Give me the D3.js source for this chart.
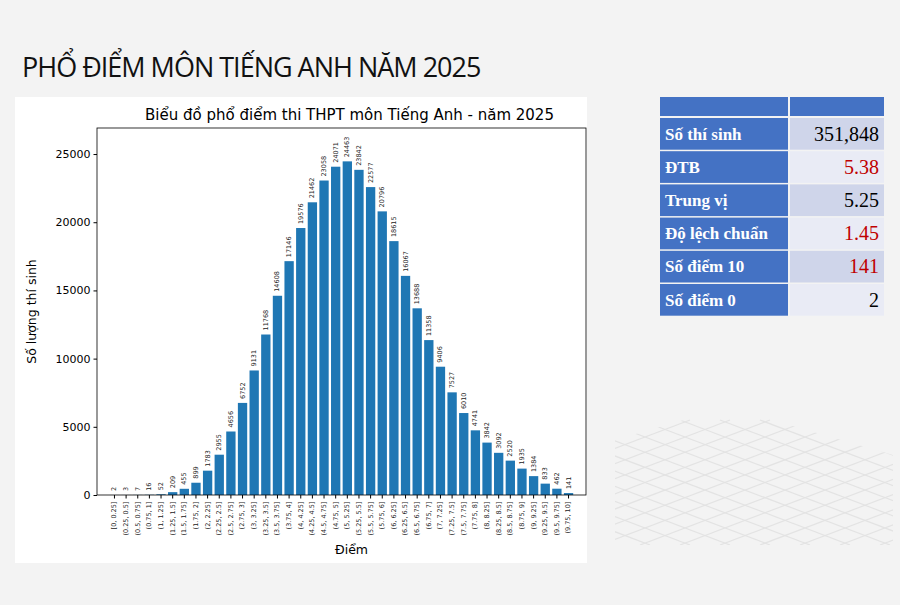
<!DOCTYPE html>
<html><head><meta charset="utf-8">
<script src="https://cdn.jsdelivr.net/npm/d3@7"></script>
<style>body{margin:0;background:#f3f3f3}svg{display:block}</style>
</head><body><div id="chart"></div>
<script>
const bins = ["[0, 0.25]","(0.25, 0.5]","(0.5, 0.75]","(0.75, 1]","(1, 1.25]","(1.25, 1.5]","(1.5, 1.75]","(1.75, 2]","(2, 2.25]","(2.25, 2.5]","(2.5, 2.75]","(2.75, 3]","(3, 3.25]","(3.25, 3.5]","(3.5, 3.75]","(3.75, 4]","(4, 4.25]","(4.25, 4.5]","(4.5, 4.75]","(4.75, 5]","(5, 5.25]","(5.25, 5.5]","(5.5, 5.75]","(5.75, 6]","(6, 6.25]","(6.25, 6.5]","(6.5, 6.75]","(6.75, 7]","(7, 7.25]","(7.25, 7.5]","(7.5, 7.75]","(7.75, 8]","(8, 8.25]","(8.25, 8.5]","(8.5, 8.75]","(8.75, 9]","(9, 9.25]","(9.25, 9.5]","(9.5, 9.75]","(9.75, 10]"]
const counts = [2,3,7,16,52,209,455,899,1783,2955,4656,6752,9131,11768,14608,17146,19576,21462,23058,24071,24463,23842,22577,20796,18615,16067,13688,11358,9406,7527,6010,4741,3842,3092,2520,1935,1384,833,462,141]
const statLabels = ["Số thí sinh","ĐTB","Trung vị","Độ lệch chuẩn","Số điểm 10","Số điểm 0"]
const statValues = ["351,848","5.38","5.25","1.45","141","2"]
const statRed = [false,true,false,true,true,false]

const svg = d3.select('#chart').append('svg').attr('width',900).attr('height',605)
svg.append('rect').attr('width',900).attr('height',605).attr('fill','#f3f3f3')

// decorative perspective grid
svg.append('clipPath').attr('id','gclip').append('polygon')
  .attr('points','615,440 728,407 893,455 893,545 615,545')
const g0 = svg.append('g').attr('clip-path','url(#gclip)').attr('stroke','#e3e3e3').attr('stroke-width',1.2)
d3.range(-8,12).forEach(i => {
  g0.append('line').attr('x1',560+i*40).attr('y1',420).attr('x2',560+i*40+330).attr('y2',545)
  g0.append('line').attr('x1',560+i*40).attr('y1',545).attr('x2',560+i*40+330).attr('y2',420)
})

svg.append('text').attr('x',22).attr('y',77).attr('font-family','Open Sans, sans-serif')
  .attr('font-size',27).attr('fill','#111').attr('letter-spacing',-1).text('PHỔ ĐIỂM MÔN TIẾNG ANH NĂM 2025')

svg.append('rect').attr('x',15).attr('y',97).attr('width',572).attr('height',466).attr('fill','#fff')

const m = {l:97, r:586, t:128, b:495}
const x = d3.scaleBand().domain(bins).range([m.l,m.r]).paddingInner(0.2).paddingOuter(1.1)
const y = d3.scaleLinear().domain([0, d3.max(counts)*1.1]).range([m.b,m.t])

svg.append('text').attr('x',(m.l+m.r)/2+8).attr('y',120).attr('text-anchor','middle')
  .attr('font-family','DejaVu Sans').attr('font-size',15).text('Biểu đồ phổ điểm thi THPT môn Tiếng Anh - năm 2025')

svg.selectAll('rect.bar').data(counts).join('rect').attr('class','bar')
  .attr('x',(d,i)=>x(bins[i])).attr('width',x.bandwidth())
  .attr('y',d=>y(d)).attr('height',d=>m.b-y(d)).attr('fill','#1f77b4')

svg.selectAll('text.val').data(counts).join('text').attr('class','val')
  .attr('transform',(d,i)=>`translate(${x(bins[i])+x.bandwidth()/2+2},${y(d)-4}) rotate(-90)`)
  .attr('font-family','DejaVu Sans').attr('font-size',6.5).attr('fill','#222').text(d=>d)

const ya = svg.append('g').attr('transform',`translate(${m.l},0)`)
  .call(d3.axisLeft(y).tickValues(d3.range(0,25001,5000)).tickFormat(d3.format('d')).tickSize(3.5).tickPadding(3))
ya.selectAll('text').attr('font-family','DejaVu Sans').attr('font-size',11).attr('fill','#000')
ya.select('.domain').remove()

const xa = svg.append('g').attr('transform',`translate(0,${m.b})`)
  .call(d3.axisBottom(x).tickSize(3.5).tickPadding(2))
xa.select('.domain').remove()
xa.selectAll('text').attr('font-family','DejaVu Sans').attr('font-size',6.5).attr('fill','#222')
  .attr('text-anchor','end').attr('dx','-0.4em').attr('dy','0.3em').attr('transform','rotate(-90)').attr('x',-4).attr('y',0)

svg.append('rect').attr('x',m.l).attr('y',m.t).attr('width',m.r-m.l).attr('height',m.b-m.t)
  .attr('fill','none').attr('stroke','#000').attr('stroke-width',0.8)

svg.append('text').attr('x',(m.l+m.r)/2+10).attr('y',554).attr('text-anchor','middle')
  .attr('font-family','DejaVu Sans').attr('font-size',12.5).text('Điểm')
svg.append('text').attr('transform',`translate(36,${(m.t+m.b)/2}) rotate(-90)`).attr('text-anchor','middle')
  .attr('font-family','DejaVu Sans').attr('font-size',12.5).text('Số lượng thí sinh')

// stats table
const tx = 660, c1 = 128, c2 = 96, ty = 97, hh = 19, rh = 33.2
svg.append('rect').attr('x',tx).attr('y',ty).attr('width',c1).attr('height',hh).attr('fill','#4472c4')
svg.append('rect').attr('x',tx+c1+2).attr('y',ty).attr('width',c2-2).attr('height',hh).attr('fill','#4472c4')
const rows = svg.selectAll('g.row').data(statLabels).join('g').attr('class','row')
  .attr('transform',(d,i)=>`translate(${tx},${ty+hh+2+i*rh})`)
rows.append('rect').attr('width',c1).attr('height',rh-1.5).attr('fill','#4472c4')
rows.append('rect').attr('x',c1+2).attr('width',c2-2).attr('height',rh-1.5)
  .attr('fill',(d,i)=>i%2===0?'#cfd5ea':'#e9ebf5')
rows.append('text').attr('x',5).attr('y',rh/2+5).attr('font-family','Liberation Serif')
  .attr('font-weight','bold').attr('font-size',17).attr('fill','#fff').text(d=>d)
rows.append('text').attr('x',c1+c2-5).attr('y',rh/2+6).attr('text-anchor','end')
  .attr('font-family','Liberation Serif').attr('font-size',20)
  .attr('fill',(d,i)=>statRed[i]?'#c00000':'#000').text((d,i)=>statValues[i])
</script></body></html>
